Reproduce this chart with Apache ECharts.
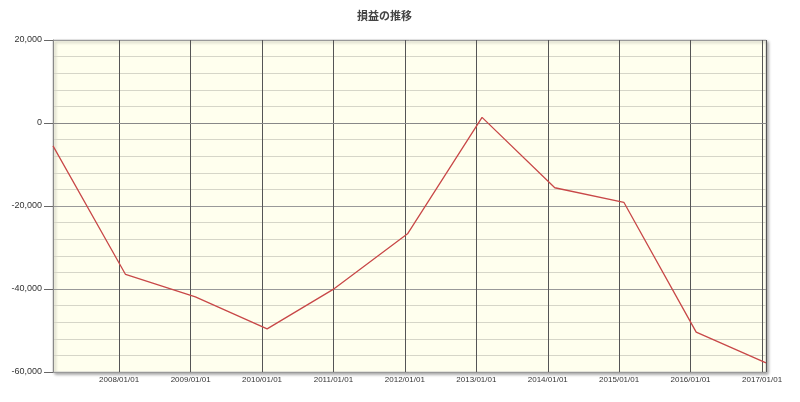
<!DOCTYPE html>
<html>
<head>
<meta charset="utf-8">
<script src="https://cdn.jsdelivr.net/npm/echarts@6/dist/echarts.min.js"></script>
<style>html,body{margin:0;padding:0;background:#fff;}#c{width:800px;height:402px;}</style>
</head>
<body>
<div id="c"></div>
<script>
var titleText = '損益の推移';
var dates = ['2007-01-28','2008-02-03','2009-01-25','2010-01-27','2011-01-06','2012-01-15','2013-01-30','2014-02-06','2015-01-25','2016-01-30','2017-01-21'];
var values = [-5500,-36500,-41900,-49600,-39900,-26700,1350,-15600,-19100,-50400,-57800];
var yMin = -60000, yMax = 20000, yStep = 20000;

var chart = echarts.init(document.getElementById('c'));
var data = dates.map(function(d,i){ return [d, values[i]]; });
chart.setOption({
  animation:false,
  backgroundColor:'#ffffff',
  title:{text:titleText,left:352,top:5,textStyle:{fontSize:11,fontWeight:'bold',color:'#444',fontFamily:'Noto Sans CJK JP'}},
  grid:{left:53,right:34,top:40,bottom:30,show:true,backgroundColor:'#FFFFEE',borderColor:'#cccccc',borderWidth:1,
        shadowColor:'rgba(0,0,0,0.35)',shadowBlur:3,shadowOffsetX:2,shadowOffsetY:2},
  xAxis:{type:'time',min:dates[0],max:dates[dates.length-1],
    minInterval:365*86400000,maxInterval:366*86400000,
    axisLine:{show:true,lineStyle:{color:'#888',width:1}},
    axisTick:{show:false},
    splitLine:{show:true,lineStyle:{color:'#555',width:1}},
    axisLabel:{formatter:'{yyyy}/{MM}/{dd}',fontSize:8,color:'#333',fontFamily:'Liberation Sans Narrow, Liberation Sans',margin:4,showMinLabel:false,showMaxLabel:false,hideOverlap:false}
  },
  yAxis:{type:'value',min:yMin,max:yMax,interval:yStep,
    axisLine:{show:true,lineStyle:{color:'#888'}},
    axisTick:{show:true,length:9,lineStyle:{color:'#666'}},
    axisLabel:{fontSize:9,color:'#333',margin:11,fontFamily:'Liberation Sans Narrow, Liberation Sans',
      formatter:function(v){return v.toLocaleString('en-US');}},
    splitLine:{show:true,lineStyle:{color:'#999',width:1}},
    minorTick:{show:false,splitNumber:5},
    minorSplitLine:{show:true,lineStyle:{color:'#d6d6c8',width:1}}
  },
  series:[{type:'line',data:data,showSymbol:false,symbol:'none',lineStyle:{color:'#c84848',width:1.3}}]
});
</script>
</body>
</html>
